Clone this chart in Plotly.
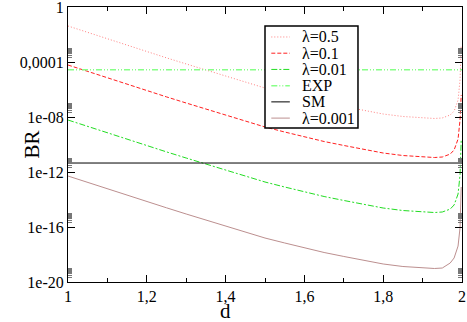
"""Branching ratio vs scaling dimension d for several couplings"""
import plotly.graph_objects as go

# scaling dimension d
d = [1.00, 1.05, 1.10, 1.15, 1.20, 1.25, 1.30, 1.35, 1.40, 1.45, 1.50,
     1.55, 1.60, 1.65, 1.70, 1.75, 1.80, 1.85, 1.90, 1.93, 1.95, 1.97,
     1.98, 1.99, 1.995, 1.998]

br_lam05 = [4.15e-2, 1.40e-2, 4.7e-3, 1.64e-3, 5.7e-4, 2.0e-4, 7.2e-5, 2.6e-5,
            9.6e-6, 3.5e-6, 1.28e-6, 5.6e-7, 2.4e-7, 1.13e-7, 5.8e-8, 3.0e-8,
            1.65e-8, 1.09e-8, 8.5e-9, 7.8e-9, 8.5e-9, 1.4e-8, 2.7e-8, 1.7e-7,
            4.9e-6, 1.7e-3]

br_lam01 = [6.05e-5, 2.04e-5, 6.9e-6, 2.39e-6, 8.3e-7, 2.9e-7, 1.04e-7, 3.8e-8,
            1.40e-8, 5.1e-9, 1.87e-9, 8.1e-10, 3.5e-10, 1.65e-10, 8.5e-11, 4.3e-11,
            2.4e-11, 1.58e-11, 1.23e-11, 1.13e-11, 1.23e-11, 2.0e-11, 4.0e-11, 2.5e-10,
            6.0e-9, 4.0e-7]

br_lam001 = [6.05e-9, 2.04e-9, 6.9e-10, 2.39e-10, 8.3e-11, 2.9e-11, 1.04e-11, 3.8e-12,
             1.40e-12, 5.1e-13, 1.87e-13, 8.1e-14, 3.5e-14, 1.65e-14, 8.5e-15, 4.3e-15,
             2.4e-15, 1.58e-15, 1.23e-15, 1.13e-15, 1.23e-15, 2.0e-15, 4.0e-15, 2.5e-14,
             6.0e-13, 2.1e-10]

br_lam0001 = [5.1e-13, 1.72e-13, 5.8e-14, 2.02e-14, 7.0e-15, 2.49e-15, 8.8e-16, 3.2e-16,
              1.18e-16, 4.3e-17, 1.58e-17, 6.9e-18, 2.97e-18, 1.40e-18, 7.2e-19, 3.7e-19,
              2.04e-19, 1.34e-19, 1.04e-19, 9.6e-20, 1.04e-19, 2.4e-19, 5.6e-19, 4.1e-18,
              8.5e-17, 8.1e-14]

br_exp = 2.7e-5
br_sm = 4.5e-12

y_tickvals = [1e-20, 1e-16, 1e-12, 1e-8, 1e-4, 1]
y_ticktext = ["1e-20", "1e-16", "1e-12", "1e-08", "0,0001", "1"]
x_tickvals = [1.0, 1.2, 1.4, 1.6, 1.8, 2.0]
x_ticktext = ["1", "1,2", "1,4", "1,6", "1,8", "2"]

FONT = "Liberation Serif"

# minor log ticks (2..9 x each labelled decade)
y_minor = [k * v for v in y_tickvals[:-1] for k in range(2, 10)]
x_minor = [1.0 + 0.1 * i for i in range(11)]

# series styles, in legend order
styles = [
    ('λ=0.5', '#ff7f7f', '1px,2px', 1),
    ('λ=0.1', '#ff2020', '4px,2px', 1),
    ('λ=0.01', '#22dd22', '6px,2px,2px,2px', 1),
    ('EXP', '#88ff88', '6px,2px,1px,2px,1px,2px', 1.5),
    ('SM', 'black', 'solid', 1),
    ('λ=0.001', '#bc8f8f', 'solid', 1),
]
series = [
    (d, br_lam05),
    (d, br_lam01),
    (d, br_lam001),
    ([d[0], 2.0], [br_exp, br_exp]),
    ([d[0], 2.0], [br_sm, br_sm]),
    (d, br_lam0001),
]

fig = go.Figure()

for (name, color, dash, width), (xs, ys) in zip(styles, series):
    fig.add_trace(go.Scatter(x=xs, y=ys, mode='lines', name=name,
                             line=dict(color=color, width=width, dash=dash),
                             showlegend=False))

# hand-drawn legend box (Grace-style, tight rows)
shapes = [dict(type='rect', xref='paper', yref='paper',
               x0=0.5, x1=0.736, y0=0.56, y1=0.931,
               line=dict(color='black', width=1.5), fillcolor='white', layer='above')]
annotations = []
row_top, row_step = 0.891, 0.059
for i, (name, color, dash, width) in enumerate(styles):
    yy = row_top - i * row_step
    shapes.append(dict(type='line', xref='paper', yref='paper',
                       x0=0.516, x1=0.563, y0=yy, y1=yy, layer='above',
                       line=dict(color=color, width=width, dash=dash)))
    annotations.append(dict(text=name, xref='paper', yref='paper', x=0.59, y=yy,
                            xanchor='left', yanchor='middle', showarrow=False,
                            font=dict(family=FONT, size=16, color='black')))

annotations += [
    dict(text='BR', xref='paper', yref='paper', x=-0.127, y=0.5,
         textangle=-90, showarrow=False, font=dict(family=FONT, size=21)),
    dict(text='d', xref='paper', yref='paper', x=0.40, y=-0.107, height=14,
         yanchor='middle', showarrow=False, font=dict(family=FONT, size=21)),
]

fig.update_layout(
    width=467,
    height=322,
    margin=dict(l=68, r=5, t=7, b=40),
    plot_bgcolor='white',
    paper_bgcolor='white',
    font=dict(family=FONT, size=16, color='black'),
    showlegend=False,
    xaxis=dict(
        range=[1, 2], automargin=False, ticklabeloverflow='allow',
        tickmode='array', tickvals=x_tickvals, ticktext=x_ticktext,
        ticks='inside', ticklen=7, tickcolor='black',
        minor=dict(tickmode='array', tickvals=x_minor, ticks='inside',
                   ticklen=4, tickcolor='black'),
        showline=True, linecolor='black', linewidth=1, mirror='ticks',
        showgrid=False, zeroline=False,
        tickfont=dict(family=FONT, size=16),
    ),
    yaxis=dict(
        type='log', range=[-20, 0], automargin=False, ticklabeloverflow='allow',
        tickmode='array', tickvals=y_tickvals, ticktext=y_ticktext,
        ticks='inside', ticklen=7, tickcolor='black',
        minor=dict(tickmode='array', tickvals=y_minor, ticks='inside',
                   ticklen=4, tickcolor='#777777'),
        showline=True, linecolor='black', linewidth=1, mirror='ticks',
        showgrid=False, zeroline=False,
        tickfont=dict(family=FONT, size=16),
    ),
    shapes=shapes,
    annotations=annotations,
)

# drop the browser's default 8px body margin so the figure sits at the window corner
fig.write_html("out.html", config={'displayModeBar': False},
               post_script="document.body.style.margin='0px';")
